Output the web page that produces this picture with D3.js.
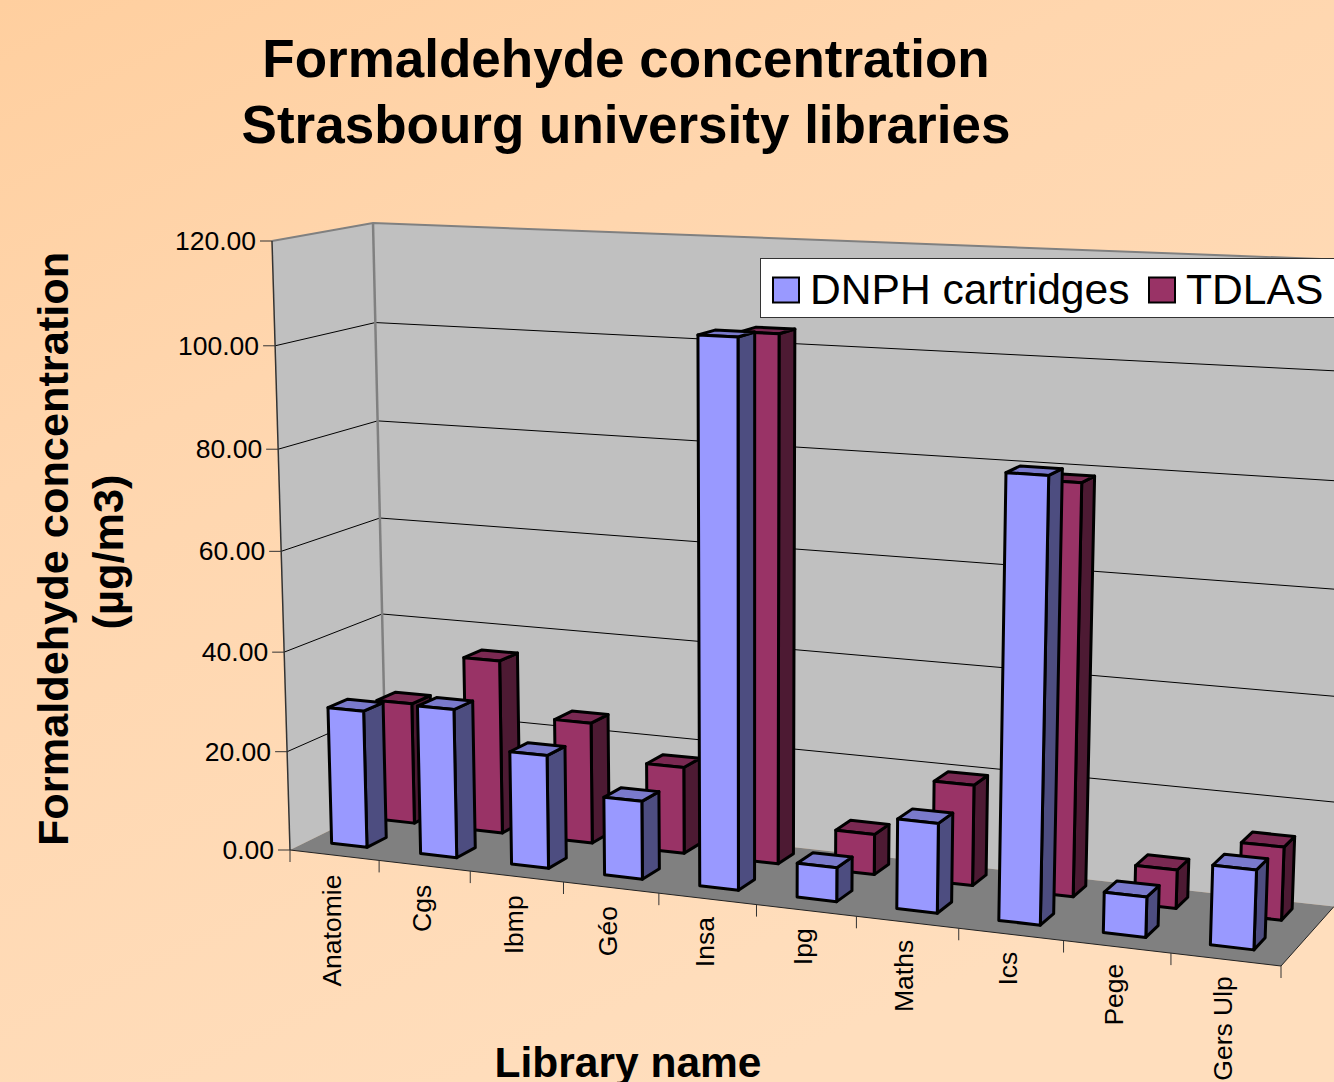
<!DOCTYPE html>
<html>
<head>
<meta charset="utf-8">
<script src="https://cdn.jsdelivr.net/npm/d3@7"></script>
<style>
html, body { margin: 0; padding: 0; background: #FFDDBB; overflow: hidden; }
svg { display: block; font-family: "Liberation Sans", Arial, sans-serif; }
</style>
</head>
<body>
<div id="chart"></div>
<script>
const categories = ['Anatomie', 'Cgs', 'Ibmp', 'Géo', 'Insa', 'Ipg', 'Maths', 'Ics', 'Pege', 'Gers Ulp'];
const seriesNames = ['DNPH cartridges', 'TDLAS'];
const dnphValues = [27.7, 29.8, 22.5, 15.4, 105.1, 6.6, 17.2, 83.2, 7.6, 14.8];
const tdlasValues = [24.9, 35.4, 24.5, 17.4, 103.4, 8, 19.7, 78.8, 7.4, 13.9];
const chartTitle = ['Formaldehyde concentration', 'Strasbourg university libraries'];
const yTitle = ['Formaldehyde concentration', '(µg/m3)'];
const xTitle = 'Library name';

const width = 1334, height = 1082;

// where the corners of the 3d box land on screen
const floorFL = [290, 850], floorFR = [1281, 966], floorBR = [1334, 906.5], floorBL = [386.5, 802.5];
const topFL = [272, 241], topBLx = 373;

// perspective camera worked out from those corners (u along categories, v depth, w height)
function makeCamera() {
    const [x0, y0] = floorFL, [x1, y1] = floorFR, [x2, y2] = floorBR, [x3, y3] = floorBL;
    const dx1 = x1 - x2, dx2 = x3 - x2, sx = x0 - x1 + x2 - x3;
    const dy1 = y1 - y2, dy2 = y3 - y2, sy = y0 - y1 + y2 - y3;
    const den = dx1 * dy2 - dx2 * dy1;
    const g = (sx * dy2 - dx2 * sy) / den, h = (dx1 * sy - sx * dy1) / den;
    const a = x1 - x0 + g * x1, b = x3 - x0 + h * x3;
    const d = y1 - y0 + g * y1, e = y3 - y0 + h * y3;
    const D = (b + topFL[0] - topBLx * (h + 1)) / (topBLx - topFL[0]);
    const A = topFL[0] * (D + 1) - x0, B = topFL[1] * (D + 1) - y0;
    return (u, v, w) => {
        const q = g * u + h * v + D * w + 1;
        return [(a * u + b * v + A * w + x0) / q, (d * u + e * v + B * w + y0) / q];
    };
}
const project = makeCamera();

const xScale = d3.scaleBand().domain(categories).range([0, 1]).paddingInner(0.6).paddingOuter(0.3).align(0.43);
const zScale = d3.scaleBand().domain(seriesNames).range([0, 1]).paddingInner(0.6).paddingOuter(0.3).align(0.63);
const yScale = d3.scaleLinear().domain([0, 120]).range([0, 1]);

const svg = d3.select('#chart').append('svg').attr('width', width).attr('height', height);

const grad = svg.append('defs').append('linearGradient').attr('id', 'bg')
    .attr('x1', 0).attr('y1', 0).attr('x2', 0.55).attr('y2', 1);
grad.append('stop').attr('offset', '0%').attr('stop-color', '#FFCF9F');
grad.append('stop').attr('offset', '35%').attr('stop-color', '#FFD6AE');
grad.append('stop').attr('offset', '100%').attr('stop-color', '#FFDEBD');
svg.append('rect').attr('width', width).attr('height', height).attr('fill', 'url(#bg)');

const poly = d3.line();
const closed = pts => poly(pts) + 'Z';

// walls and floor
svg.append('path').attr('d', closed([project(0, 0, 0), project(0, 1, 0), project(0, 1, 1), project(0, 0, 1)]))
    .attr('fill', '#C0C0C0');
svg.append('path').attr('d', closed([project(0, 1, 0), project(1, 1, 0), project(1, 1, 1), project(0, 1, 1)]))
    .attr('fill', '#C0C0C0');
svg.append('path').attr('d', closed([project(0, 0, 0), project(1, 0, 0), project(1, 1, 0), project(0, 1, 0)]))
    .attr('fill', '#808080');

// gridlines on both walls
const yTicks = yScale.ticks(6);
yTicks.filter(t => t > 0 && t < 120).forEach(t => {
    svg.append('path')
        .attr('d', poly([project(0, 0, yScale(t)), project(0, 1, yScale(t)), project(1, 1, yScale(t))]))
        .attr('fill', 'none').attr('stroke', '#000').attr('stroke-width', 1);
});

// wall edges
svg.append('path').attr('d', poly([project(0, 0, 1), project(0, 1, 1), project(1, 1, 1)]))
    .attr('fill', 'none').attr('stroke', '#808080').attr('stroke-width', 2);
svg.append('path').attr('d', poly([project(0, 1, 0), project(0, 1, 1)]))
    .attr('fill', 'none').attr('stroke', '#808080').attr('stroke-width', 2.5);
svg.append('path').attr('d', poly([project(0, 0, 0), project(0, 0, 1)]))
    .attr('fill', 'none').attr('stroke', '#333').attr('stroke-width', 1.5);
svg.append('path').attr('d', poly([project(0, 0, 0), project(1, 0, 0), project(1, 1, 0)]))
    .attr('fill', 'none').attr('stroke', '#222').attr('stroke-width', 1);

// value axis ticks
const fmt = d3.format('.2f');
yTicks.forEach(t => {
    const p = project(0, 0, yScale(t));
    svg.append('line').attr('x1', p[0] - 12).attr('x2', p[0]).attr('y1', p[1]).attr('y2', p[1])
        .attr('stroke', '#333').attr('stroke-width', 1);
    svg.append('text').attr('x', p[0] - 16).attr('y', p[1] + 9).attr('text-anchor', 'end')
        .attr('font-size', 26.5).attr('fill', '#000').text(fmt(t));
});

// category ticks and labels
d3.range(categories.length + 1).forEach(i => {
    const p = project(i * xScale.step(), 0, 0);
    svg.append('line').attr('x1', p[0]).attr('x2', p[0]).attr('y1', p[1]).attr('y2', p[1] + 12)
        .attr('stroke', '#333').attr('stroke-width', 1);
});
categories.forEach(c => {
    const mid = xScale(c) + xScale.bandwidth() / 2;
    const p = project(mid, 0, 0);
    svg.append('text').attr('text-anchor', 'end')
        .attr('transform', `translate(${p[0] + 10.5},${p[1] + 20 - 3 * mid}) rotate(-90)`)
        .attr('font-size', 26.5).attr('fill', '#000').text(c);
});

// bars, back row first, left to right
const colours = {
    'DNPH cartridges': { face: '#9999FF', side: '#4D4D80', top: '#7A7ACC' },
    'TDLAS': { face: '#993366', side: '#4D1A33', top: '#7A2952' }
};
const rows = [['TDLAS', tdlasValues], ['DNPH cartridges', dnphValues]];
rows.forEach(([name, values]) => {
    const col = colours[name];
    const v0 = zScale(name), v1 = v0 + zScale.bandwidth();
    const g = svg.append('g').attr('stroke', '#000').attr('stroke-width', 3).attr('stroke-linejoin', 'round');
    categories.forEach((c, i) => {
        const u0 = xScale(c), u1 = u0 + xScale.bandwidth(), w = yScale(values[i]);
        g.append('path').attr('fill', col.side)
            .attr('d', closed([project(u1, v0, 0), project(u1, v1, 0), project(u1, v1, w), project(u1, v0, w)]));
        g.append('path').attr('fill', col.top)
            .attr('d', closed([project(u0, v0, w), project(u1, v0, w), project(u1, v1, w), project(u0, v1, w)]));
        g.append('path').attr('fill', col.face)
            .attr('d', closed([project(u0, v0, 0), project(u1, v0, 0), project(u1, v0, w), project(u0, v0, w)]));
    });
});

// legend
svg.append('rect').attr('x', 760.5).attr('y', 258.5).attr('width', 600).attr('height', 59)
    .attr('fill', '#fff').attr('stroke', '#333').attr('stroke-width', 1);
const legendX = [773, 1149], legendTextX = [810, 1186];
seriesNames.forEach((name, i) => {
    svg.append('rect').attr('x', legendX[i]).attr('y', 277.5).attr('width', 26).attr('height', 25)
        .attr('fill', colours[name].face).attr('stroke', '#000').attr('stroke-width', 2);
    svg.append('text').attr('x', legendTextX[i]).attr('y', 304).attr('font-size', 42.6)
        .attr('fill', '#000').text(name);
});

// titles
chartTitle.forEach((t, i) => {
    svg.append('text').attr('x', 626).attr('y', 77 + i * 66).attr('text-anchor', 'middle')
        .attr('font-size', 53).attr('font-weight', 'bold').attr('fill', '#000').text(t);
});
yTitle.forEach((t, i) => {
    svg.append('text').attr('text-anchor', 'middle')
        .attr('transform', `translate(${68 + i * 55},${549 + i * 3}) rotate(-90)`)
        .attr('font-size', 43.3).attr('font-weight', 'bold').attr('fill', '#000').text(t);
});
svg.append('text').attr('x', 628).attr('y', 1077).attr('text-anchor', 'middle')
    .attr('font-size', 42.5).attr('font-weight', 'bold').attr('fill', '#000').text(xTitle);
</script>
</body>
</html>
